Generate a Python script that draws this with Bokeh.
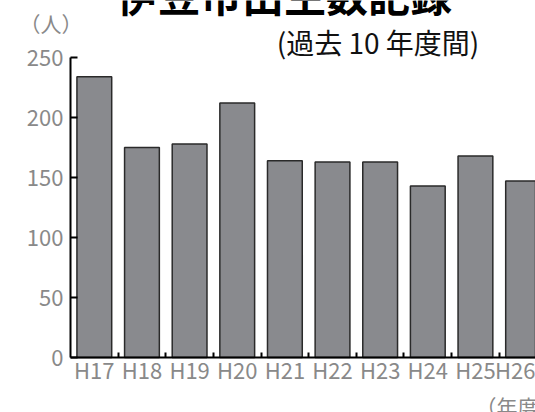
from bokeh.plotting import figure
from bokeh.models import Range1d, FixedTicker, Label
from bokeh.embed import file_html
from bokeh.resources import INLINE

categories = ["H17", "H18", "H19", "H20", "H21", "H22", "H23", "H24", "H25", "H26"]
births = [234, 175, 178, 212, 164, 163, 163, 143, 168, 147]
y_ticks = [0, 50, 100, 150, 200, 250]
title_text = "伊豆市出生数記録"
subtitle_text = "(過去 10 年度間)"
y_unit_text = "（人）"
x_unit_text = "（年度）"

FONT = "Noto Sans CJK JP"
GRAY = "#898989"

W, H = 535, 412
LEFT, BOTTOM, TOP = 70, 55, 57          # pixel position of the value axes
PX_X = 47.64                            # pixels per category
PX_Y = (H - BOTTOM - TOP) / 250.0       # pixels per person

xs = list(range(len(categories)))
x_start = -0.5 - LEFT / PX_X
x_end = -0.5 + (W - LEFT) / PX_X
y_start = -BOTTOM / PX_Y
y_end = 250 + TOP / PX_Y

p = figure(width=W, height=H, output_backend="svg", toolbar_location=None,
           x_range=Range1d(x_start, x_end), y_range=Range1d(y_start, y_end),
           min_border=0, title=None)
p.outline_line_color = None
p.xgrid.visible = False
p.ygrid.visible = False
p.background_fill_color = "white"
p.border_fill_color = "white"

p.vbar(x=xs, top=births, bottom=0, width=0.73,
       fill_color="#898a8e", line_color="#2a2a2a", line_width=1.5)

# y axis
ya = p.yaxis[0]
ya.fixed_location = -0.5
ya.bounds = (0, 250)
ya.ticker = FixedTicker(ticks=y_ticks)
ya.axis_line_width = 2
ya.axis_line_color = "black"
ya.major_tick_in = 7
ya.major_tick_out = 0
ya.major_tick_line_width = 2
ya.minor_tick_line_color = None
ya.major_label_standoff = 7
ya.major_label_text_font = FONT
ya.major_label_text_font_size = "22px"
ya.major_label_text_color = GRAY

# x axis
xa = p.xaxis[0]
xa.fixed_location = 0
xa.bounds = (-0.5, x_end)
xa.ticker = FixedTicker(ticks=xs, minor_ticks=[i + 0.5 for i in range(len(categories) - 1)])
xa.major_label_overrides = {i: c for i, c in zip(xs, categories)}
xa.axis_line_width = 2
xa.axis_line_color = "black"
xa.major_tick_in = 0
xa.major_tick_out = 0
xa.minor_tick_in = 5
xa.minor_tick_out = 0
xa.minor_tick_line_width = 2
xa.minor_tick_line_color = "black"
xa.major_label_standoff = -5
xa.major_label_text_font = FONT
xa.major_label_text_font_size = "22px"
xa.major_label_text_color = GRAY

p.add_layout(Label(x=3.98, y=303.3, text=title_text, text_align="center",
                   text_baseline="alphabetic", text_font=FONT, text_font_style="bold",
                   text_font_size="42px", text_color="black"))
p.add_layout(Label(x=5.955, y=263.3, text=subtitle_text, text_align="center",
                   text_baseline="alphabetic", text_font=FONT,
                   text_font_size="28px", text_color="#111111"))
p.add_layout(Label(x=-0.91, y=278.7, text=y_unit_text, text_align="center",
                   text_baseline="alphabetic", text_font=FONT,
                   text_font_size="21px", text_color=GRAY))
p.add_layout(Label(x=8.0, y=-40, text=x_unit_text, text_align="left",
                   text_baseline="alphabetic", text_font=FONT,
                   text_font_size="21px", text_color=GRAY))

open("out.html", "w").write(file_html(p, INLINE))
